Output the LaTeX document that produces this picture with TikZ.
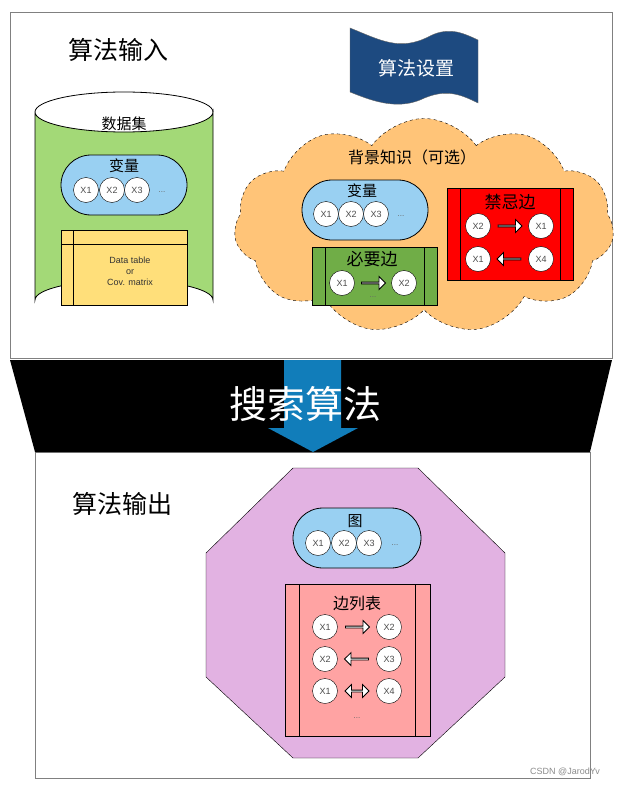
\documentclass[tikz,border=0pt]{standalone}
\usepackage{fontspec}
\setmainfont{Liberation Sans}
\newfontfamily\cjk{Noto Sans CJK SC}
\usetikzlibrary{shapes.symbols,shapes.arrows,calc}
\definecolor{pillblue}{HTML}{99D0F2}
\definecolor{cylgreen}{HTML}{A3D977}
\definecolor{tabyellow}{HTML}{FFDF7A}
\definecolor{cloudor}{HTML}{FFC478}
\definecolor{mustgreen}{HTML}{70AD47}
\definecolor{flagblue}{HTML}{1D4A80}
\definecolor{octpink}{HTML}{E2B2E2}
\definecolor{listpink}{HTML}{FFA3A3}
\definecolor{arrblue}{HTML}{117DBA}
\tikzset{x=1pt,y=-1pt,
 var/.style={circle,draw,fill=white,minimum size=25,inner sep=0,font=\fontsize{9}{9}\selectfont\color{black!70}},
 pill/.style={rounded corners=30,draw,fill=pillblue,line width=0.8pt},
 dots/.style={font=\fontsize{8}{8}\selectfont\color{black!60}},
 ttl/.style={font=\cjk\fontsize{15}{15}\selectfont},
 barr/.style={single arrow,draw,fill=white,minimum height=24,minimum width=13,single arrow head extend=2.5,inner sep=0,thick},
 darr/.style={double arrow,draw,fill=white,minimum height=24,minimum width=13,double arrow head extend=2.5,inner sep=0,thick},
 box/.style={draw,line width=0.8pt}}
\begin{document}
\begin{tikzpicture}
\useasboundingbox (0,0) rectangle (623,789);
\fill[white] (0,0) rectangle (623,789);
% frames
\draw[gray] (10,12) rectangle (612,358);
\draw[gray] (35,452) rectangle (590,778);
\fill[black] (10,360) -- (612,360) -- (590,452) -- (35,452) -- cycle;
\fill[arrblue] (284,360) -- (341,360) -- (341,428) -- (358,428) -- (313,452) -- (268,428) -- (284,428) -- cycle;
\node[font=\cjk\fontsize{38}{38}\selectfont,text=white] (search) at (305,404) {搜索算法};
% titles
\node[font=\cjk\fontsize{25}{25}\selectfont] (tin) at (118,50) {算法输入};
\node[font=\cjk\fontsize{25}{25}\selectfont] (tout) at (122,504) {算法输出};
% flag
\fill[flagblue,draw=black!60] (350,28) .. controls (380,40) and (400,52) .. (430,36) .. controls (450,26) and (465,34) .. (478,40) -- (478,103) .. controls (460,94) and (445,88) .. (420,100) .. controls (395,110) and (370,100) .. (350,92) -- cycle;
\node[font=\cjk\fontsize{19}{19}\selectfont,text=white] (set) at (416,68) {算法设置};
% cylinder
\draw[fill=cylgreen,line width=0.8pt] (35,112) -- (35,300) arc[start angle=180,end angle=360,x radius=89,y radius=20] -- (213,112) arc[start angle=0,end angle=180,x radius=89,y radius=20];
\draw[line width=0.8pt] (35,112) arc[start angle=180,end angle=360,x radius=89,y radius=20];
\node[ttl] (ds) at (124,124) {数据集};
\draw[pill] (61,155) rectangle (187,215);
\node[ttl] (v1) at (124,166) {变量};
\node[var] (a1) at (86,190) {X1};
\node[var] (a2) at (112,190) {X2};
\node[var] (a3) at (137,190) {X3};
\node[dots] (ad) at (162,192) {...};
\draw[box,fill=tabyellow] (61,230) rectangle (187,305);
\draw[line width=0.8pt] (73,230) -- (73,305) (61,244) -- (187,244);
\node[font=\fontsize{9}{11}\selectfont,align=center,text=black!80] (dt) at (130,271) {Data table\\or\\Cov. matrix};
% cloud
\node[cloud,cloud puffs=11,cloud puff arc=110,aspect=1.8,draw,dashed,fill=cloudor,minimum width=380,minimum height=215,inner sep=0] (cl) at (424,226) {};
\node[font=\cjk\fontsize{16}{16}\selectfont] (bk) at (412,157) {背景知识（可选）};
\draw[pill] (302,180) rectangle (428,240);
\node[ttl] (v2) at (362,191) {变量};
\node[var] (b1) at (326,214) {X1};
\node[var] (b2) at (351,214) {X2};
\node[var] (b3) at (376,214) {X3};
\node[dots] (bd) at (401,216) {...};
% must edges
\draw[box,fill=mustgreen] (312,247) rectangle (437,305);
\draw[line width=0.8pt] (325,247) -- (325,305) (424,247) -- (424,305);
\node[font=\cjk\fontsize{17}{17}\selectfont] (must) at (372,259) {必要边};
\node[var] (m1) at (342,283) {X1};
\node[var] (m2) at (404,283) {X2};
\node[barr] (ma) at ($(m1)!0.5!(m2)$) {};
\node[dots] (md) at (373,297) {...};
% forbidden
\draw[box,fill=red] (447,188) rectangle (573,280);
\draw[line width=0.8pt] (460,188) -- (460,280) (560,188) -- (560,280);
\node[font=\cjk\fontsize{17}{17}\selectfont] (forb) at (510,202) {禁忌边};
\node[var] (f1) at (478,226) {X2};
\node[var] (f2) at (541,226) {X1};
\node[barr] (fa1) at ($(f1)!0.5!(f2)$) {};
\node[var] (f3) at (478,259) {X1};
\node[var] (f4) at (541,259) {X4};
\node[barr,shape border rotate=180] (fa2) at ($(f3)!0.5!(f4)$) {};
% octagon
\draw[fill=octpink] (293,468) -- (418,468) -- (505,553) -- (505,677) -- (418,758) -- (293,758) -- (206,677) -- (206,553) -- cycle;
\draw[pill] (293,508) rectangle (421,568);
\node[ttl] (g) at (355,521) {图};
\node[var] (c1) at (318,543) {X1};
\node[var] (c2) at (344,543) {X2};
\node[var] (c3) at (369,543) {X3};
\node[dots] (cd) at (395,545) {...};
\draw[box,fill=listpink] (285,584) rectangle (430,736);
\draw[line width=0.8pt] (299,584) -- (299,736) (415,584) -- (415,736);
\node[font=\cjk\fontsize{16}{16}\selectfont] (el) at (357,603) {边列表};
\node[var] (e1) at (325,627) {X1};
\node[var] (e2) at (389,627) {X2};
\node[barr] (ea1) at ($(e1)!0.5!(e2)$) {};
\node[var] (e3) at (325,659) {X2};
\node[var] (e4) at (389,659) {X3};
\node[barr,shape border rotate=180] (ea2) at ($(e3)!0.5!(e4)$) {};
\node[var] (e5) at (325,691) {X1};
\node[var] (e6) at (389,691) {X4};
\node[darr] (ea3) at ($(e5)!0.5!(e6)$) {};
\node[dots] (ed) at (357,718) {...};
\node[font=\fontsize{9}{9}\selectfont,text=black!45] (wm) at (565,772) {CSDN @JarodYv};
\end{tikzpicture}
\end{document}
